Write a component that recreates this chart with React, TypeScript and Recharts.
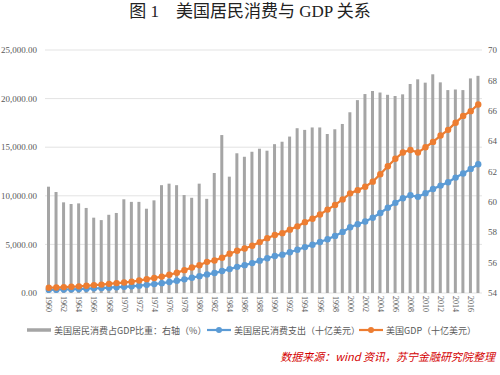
import React from "react";
import { ComposedChart, Bar, Line, XAxis, YAxis, CartesianGrid } from "recharts";

const years = [
  "1960","1961","1962","1963","1964","1965","1966","1967","1968","1969",
  "1970","1971","1972","1973","1974","1975","1976","1977","1978","1979",
  "1980","1981","1982","1983","1984","1985","1986","1987","1988","1989",
  "1990","1991","1992","1993","1994","1995","1996","1997","1998","1999",
  "2000","2001","2002","2003","2004","2005","2006","2007","2008","2009",
  "2010","2011","2012","2013","2014","2015","2016","2017",
];

// 美国居民消费占GDP比重 (%) - right axis
const shareValues = [
  61.0, 60.65, 59.97, 59.86, 59.9, 59.6, 58.96, 58.8, 59.15, 59.27,
  60.17, 60.0, 60.0, 59.55, 60.1, 61.1, 61.2, 61.1, 60.45, 60.27,
  61.2, 60.2, 61.9, 64.4, 61.66, 63.2, 62.97, 63.3, 63.5, 63.37,
  63.8, 63.96, 64.3, 64.85, 64.74, 64.9, 64.9, 64.47, 64.78, 65.13,
  65.9, 66.7, 67.1, 67.3, 67.2, 67.05, 66.97, 67.08, 67.76, 68.07,
  67.85, 68.4, 67.87, 67.36, 67.4, 67.36, 68.13, 68.3,
];

// 美国居民消费支出 (十亿美元)
const pceValues = [
  331, 342, 363, 382, 411, 443, 480, 504, 552, 598,
  640, 692, 758, 837, 917, 1013, 1129, 1257, 1404, 1567,
  1733, 1915, 2051, 2258, 2460, 2688, 2864, 3077, 3330, 3577,
  3809, 3943, 4198, 4452, 4721, 4963, 5245, 5537, 5877, 6284,
  6767, 7074, 7349, 7741, 8232, 8769, 9277, 9747, 10050, 9891,
  10260, 10699, 11047, 11388, 11875, 12297, 12770, 13250,
];

// 美国GDP (十亿美元)
const gdpValues = [
  543, 563, 605, 639, 686, 744, 815, 862, 943, 1020,
  1073, 1165, 1279, 1425, 1545, 1685, 1873, 2082, 2352, 2627,
  2857, 3207, 3344, 3634, 4038, 4339, 4580, 4855, 5236, 5642,
  5963, 6158, 6520, 6859, 7287, 7640, 8073, 8578, 9063, 9631,
  10251, 10582, 10936, 11458, 12214, 13037, 13815, 14452, 14713, 14449,
  14992, 15543, 16197, 16785, 17522, 18219, 18707, 19400,
];

const leftTicks = [0, 5000, 10000, 15000, 20000, 25000];
const rightTicks = [54, 56, 58, 60, 62, 64, 66, 68, 70];

const titleText = "图 1\u3000美国居民消费与 GDP 关系";
const seriesNames = [
  "美国居民消费占GDP比重：右轴（%）",
  "美国居民消费支出（十亿美元）",
  "美国GDP（十亿美元）",
];
const sourceText = "数据来源：wind 资讯，苏宁金融研究院整理";

const data = years.map((y, i) => ({
  year: y,
  share: shareValues[i],
  pce: pceValues[i],
  gdp: gdpValues[i],
}));

const GRAY = "#a5a5a5";
const BLUE = "#5b9bd5";
const ORANGE = "#ed7d31";
const TICK_COLOR = "#595959";
const AXIS_FONT = "'Liberation Serif', 'Noto Sans CJK SC', serif";
const CJK_FONT = "'Noto Sans CJK SC', 'Liberation Sans', sans-serif";

const fmtLeft = (v: number) =>
  v.toLocaleString("en-US", { minimumFractionDigits: 2, maximumFractionDigits: 2 });

const YearTick = (props: any) => {
  const { x, y, payload } = props;
  return (
    <text
      x={0}
      y={0}
      transform={`translate(${x}, ${y - 5}) rotate(90)`}
      textAnchor="start"
      dominantBaseline="central"
      fontSize={8}
      fill={TICK_COLOR}
      fontFamily={AXIS_FONT}
    >
      {payload.value}
    </text>
  );
};

const LegendItem = ({ color, label, dot, left }: { color: string; label: string; dot: boolean; left: number }) => (
  <div
    style={{
      position: "absolute",
      left,
      top: 322,
      height: 16,
      display: "flex",
      alignItems: "center",
      whiteSpace: "nowrap",
    }}
  >
    <svg width={24} height={10} style={{ marginRight: 3 }}>
      <line x1={0} y1={5} x2={24} y2={5} stroke={color} strokeWidth={dot ? 2.2 : 3.5} />
      {dot && <circle cx={12} cy={5} r={3} fill={color} />}
    </svg>
    <span style={{ fontSize: 9, color: TICK_COLOR, fontFamily: CJK_FONT }}>{label}</span>
  </div>
);

export default function App() {
  return (
    <div
      style={{
        position: "absolute",
        left: 0,
        top: 0,
        width: 500,
        height: 375,
        background: "#ffffff",
        overflow: "hidden",
      }}
    >
      <div
        style={{
          position: "absolute",
          top: 1,
          left: 0,
          width: 500,
          textAlign: "center",
          fontSize: 17,
          lineHeight: "22px",
          color: "#222",
          fontFamily: "'Liberation Serif', 'Noto Sans CJK SC', serif",
          whiteSpace: "pre",
        }}
      >
        {titleText}
      </div>
      <div style={{ position: "absolute", left: 0, top: 0 }}>
        <ComposedChart
          width={500}
          height={375}
          data={data}
          margin={{ top: 50, right: 0, left: 0, bottom: 52 }}
          barCategoryGap={0}
        >
          <CartesianGrid yAxisId="left" horizontal={true} vertical={false} stroke="#e3e3e3" strokeWidth={1} />
          <XAxis
            dataKey="year"
            interval={1}
            axisLine={false}
            tickLine={false}
            height={30}
            tick={<YearTick />}
          />
          <YAxis
            yAxisId="left"
            orientation="left"
            width={45}
            domain={[0, 25000]}
            ticks={leftTicks}
            tickFormatter={fmtLeft}
            axisLine={false}
            tickLine={false}
            tickSize={6}
            tickMargin={2}
            tick={{ fontSize: 9, fill: TICK_COLOR, fontFamily: AXIS_FONT }}
          />
          <YAxis
            yAxisId="right"
            orientation="right"
            width={18}
            domain={[54, 70]}
            ticks={rightTicks}
            axisLine={false}
            tickLine={false}
            tickSize={4}
            tickMargin={2}
            tick={{ fontSize: 9, fill: TICK_COLOR, fontFamily: AXIS_FONT }}
          />
          <Bar yAxisId="right" dataKey="share" fill={GRAY} barSize={3} isAnimationActive={false} />
          <Line
            yAxisId="left"
            dataKey="pce"
            stroke={BLUE}
            strokeWidth={2.25}
            dot={{ r: 3.2, fill: BLUE, stroke: BLUE, strokeWidth: 0 }}
            activeDot={false}
            isAnimationActive={false}
          />
          <Line
            yAxisId="left"
            dataKey="gdp"
            stroke={ORANGE}
            strokeWidth={2.25}
            dot={{ r: 3.2, fill: ORANGE, stroke: ORANGE, strokeWidth: 0 }}
            activeDot={false}
            isAnimationActive={false}
          />
        </ComposedChart>
      </div>
      <LegendItem color={GRAY} label={seriesNames[0]} dot={false} left={27} />
      <LegendItem color={BLUE} label={seriesNames[1]} dot={true} left={207} />
      <LegendItem color={ORANGE} label={seriesNames[2]} dot={true} left={359} />
      <div
        style={{
          position: "absolute",
          right: 5,
          top: 348,
          fontSize: 11,
          lineHeight: "16px",
          fontStyle: "italic",
          color: "#d40000",
          fontFamily: CJK_FONT,
          whiteSpace: "pre",
        }}
      >
        {sourceText}
      </div>
    </div>
  );
}
